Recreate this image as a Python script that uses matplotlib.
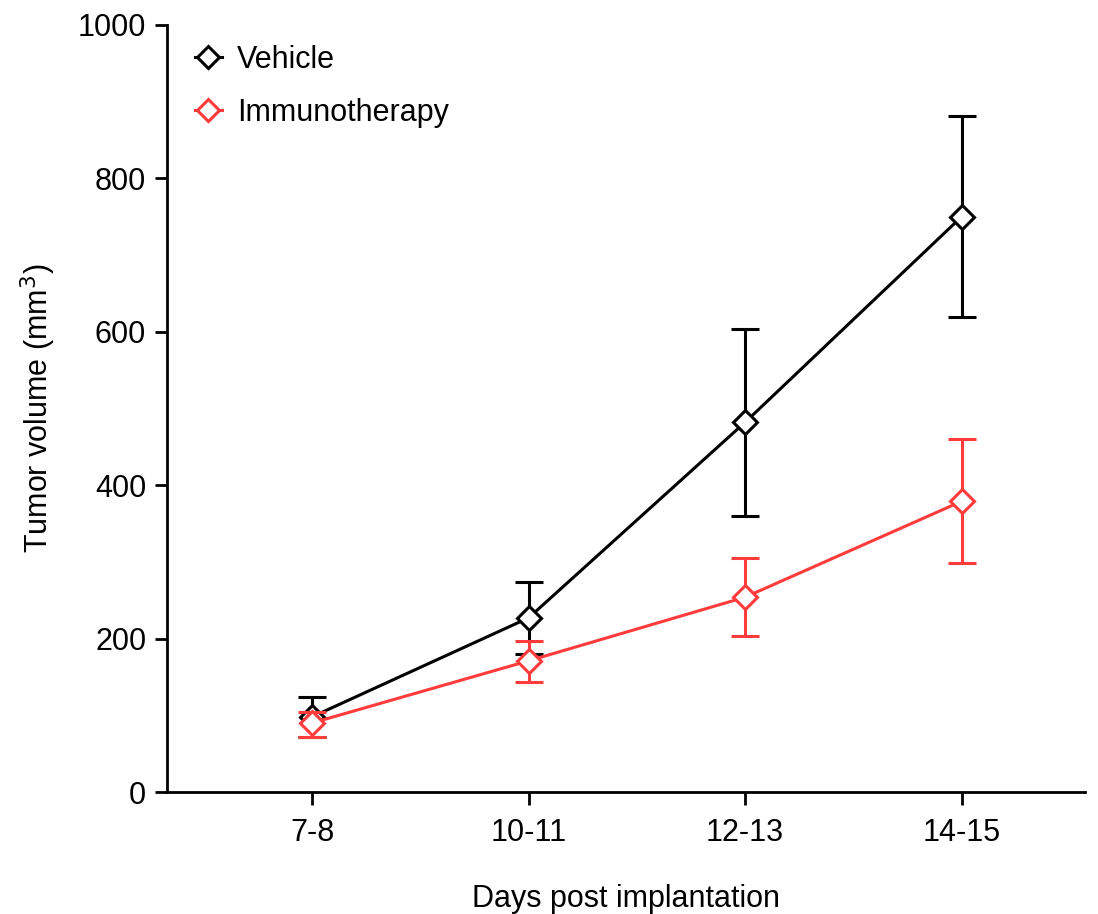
import matplotlib
matplotlib.use("Agg")
import matplotlib.pyplot as plt
from matplotlib.lines import Line2D

plt.rcParams['font.family'] = ['Liberation Sans', 'DejaVu Sans']

categories = ["7-8", "10-11", "12-13", "14-15"]
vehicle = [98, 227, 482, 750]
vehicle_upper = [124, 274, 604, 881]
vehicle_lower = [72, 180, 360, 619]
immuno = [90, 171, 254, 379]
immuno_upper = [104, 197, 305, 460]
immuno_lower = [72, 143, 203, 299]
y_ticks = [0, 200, 400, 600, 800, 1000]

RED = '#ff3b3b'

fig = plt.figure(figsize=(10.98, 9.14), dpi=100)
ax = fig.add_axes([167/1098, 1-792/914, (1085-167)/1098, (792-25)/914])

x = list(range(len(categories)))

def plot_series(vals, up, lo, color, label, z):
    yerr = [[v - l for v, l in zip(vals, lo)], [u - v for u, v in zip(up, vals)]]
    ax.errorbar(x, vals, yerr=yerr, color=color, lw=2.2, marker='D', ms=12.5,
                mfc='white', mec=color, mew=2.2, capsize=10, capthick=2.2,
                elinewidth=2.2, zorder=z, label=label)

plot_series(vehicle, vehicle_upper, vehicle_lower, 'black', 'Vehicle', 3)
plot_series(immuno, immuno_upper, immuno_lower, RED, 'Immunotherapy', 4)

ax.set_xlim(-0.67, 3.57)
ax.set_ylim(0, 1000)
ax.set_xticks(x)
ax.set_xticklabels(categories)
ax.set_yticks(y_ticks)
for s in ['top', 'right']:
    ax.spines[s].set_visible(False)
for s in ['left', 'bottom']:
    ax.spines[s].set_linewidth(2)
ax.tick_params(axis='both', width=2, length=9, labelsize=22, direction='out')
ax.tick_params(axis='y', pad=6)
ax.tick_params(axis='x', pad=10)

ax.set_xlabel("Days post implantation", fontsize=22, labelpad=26)
ax.set_ylabel("Tumor volume (mm$^3$)", fontsize=22, labelpad=14)

handles = [Line2D([0], [0], color='black', lw=2.2, marker='D', ms=11, mfc='white', mec='black', mew=2.2),
           Line2D([0], [0], color=RED, lw=2.2, marker='D', ms=11, mfc='white', mec=RED, mew=2.2)]
leg = ax.legend(handles, ['Vehicle', 'Immunotherapy'], loc='upper left', bbox_to_anchor=(0.0, 1.01),
                frameon=False, fontsize=22, handlelength=0.9, handletextpad=0.5, labelspacing=0.75)

fig.savefig("out.png", dpi=100)
